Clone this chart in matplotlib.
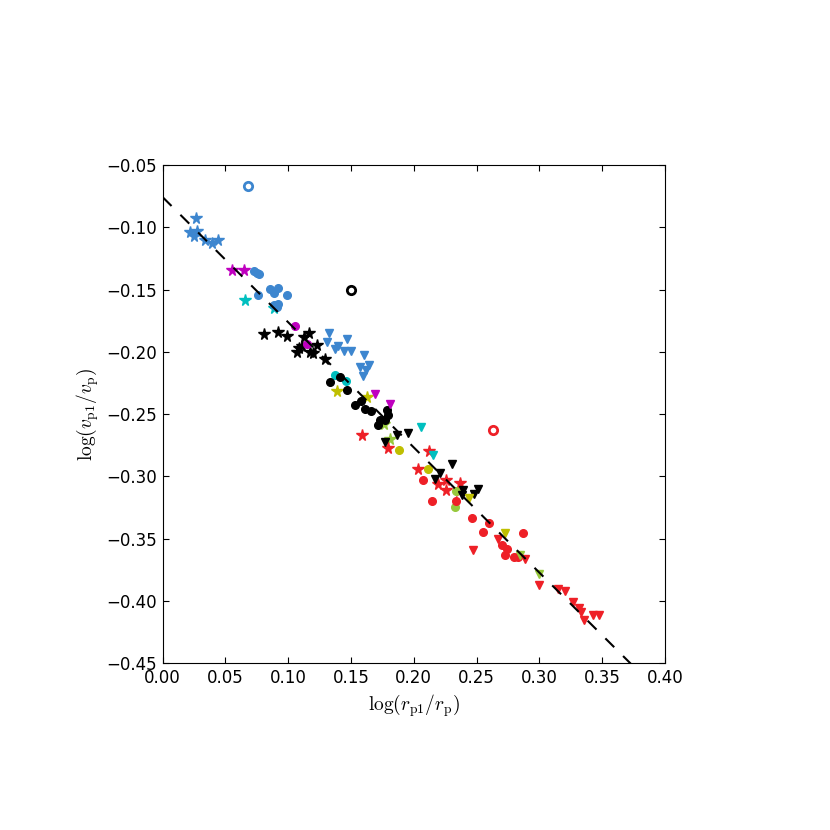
import numpy as np
import matplotlib
matplotlib.use('Agg')
import matplotlib.pyplot as plt

# colours used in the figure
BLUE = '#3d86cf'
RED = '#ee2027'
YGREEN = '#97c93c'

# stars
blue_star_x = [0.0263, 0.0215, 0.0247, 0.0273, 0.0337, 0.0396, 0.0444]
blue_star_y = [-0.0928, -0.1036, -0.1068, -0.1030, -0.1100, -0.1127, -0.1105]
mag_star_x = [0.0555, 0.0648]
mag_star_y = [-0.1338, -0.1343]
cyan_star_x = [0.0656, 0.0884]
cyan_star_y = [-0.1584, -0.1649]
black_star_x = [0.0807, 0.0919, 0.0988, 0.1126, 0.1163, 0.1084, 0.1073, 0.1108,
                0.1174, 0.1201, 0.1227, 0.1296]
black_star_y = [-0.1857, -0.1841, -0.1873, -0.1884, -0.1852, -0.1970, -0.2002, -0.1954,
                -0.2002, -0.2008, -0.1944, -0.2056]
olive_star_x = [0.1386, 0.1625]
olive_star_y = [-0.2313, -0.2361]
yg_star_x = [0.1759, 0.1811]
yg_star_y = [-0.2575, -0.2698]
red_star_x = [0.1586, 0.1795, 0.2125, 0.2037, 0.2191, 0.2260, 0.2260, 0.2367, 0.2361]
red_star_y = [-0.2671, -0.2773, -0.2795, -0.2939, -0.3062, -0.3025, -0.3110, -0.3052, -0.3116]

# filled circles
blue_circ_x = [0.0731, 0.0751, 0.0767, 0.0763, 0.0853, 0.0884, 0.0916, 0.0990, 0.0890,
               0.0916, 0.0911]
blue_circ_y = [-0.1354, -0.1370, -0.1376, -0.1542, -0.1498, -0.1526, -0.1488, -0.1542,
               -0.1622, -0.1616, -0.1638]
mag_circ_x = [0.1052, 0.1153]
mag_circ_y = [-0.1788, -0.1938]
cyan_circ_x = [0.1371, 0.1461]
cyan_circ_y = [-0.2189, -0.2237]
black_circ_x = [0.1333, 0.1413, 0.1466, 0.1535, 0.1578, 0.1610, 0.1663, 0.1785, 0.1791,
                0.1732, 0.1767, 0.1715]
black_circ_y = [-0.2243, -0.2201, -0.2302, -0.2425, -0.2398, -0.2462, -0.2473, -0.2468,
                -0.2510, -0.2547, -0.2547, -0.2590]
olive_circ_x = [0.1886, 0.2112]
olive_circ_y = [-0.2789, -0.2939]
yg_circ_x = [0.2340, 0.2329]
yg_circ_y = [-0.3116, -0.3249]
red_circ_x = [0.2074, 0.2149, 0.2335, 0.2462, 0.2600, 0.2552, 0.2871, 0.2701, 0.2744,
              0.2728, 0.2802, 0.2834]
red_circ_y = [-0.3025, -0.3201, -0.3201, -0.3330, -0.3378, -0.3448, -0.3453, -0.3550,
              -0.3582, -0.3630, -0.3651, -0.3651]

# down triangles
blue_tri_x = [0.1328, 0.1466, 0.1312, 0.1397, 0.1371, 0.1445, 0.1498, 0.1604, 0.1572,
              0.1641, 0.1620, 0.1594]
blue_tri_y = [-0.1846, -0.1894, -0.1921, -0.1953, -0.1980, -0.1990, -0.1996, -0.2023,
              -0.2119, -0.2108, -0.2146, -0.2194]
mag_tri_x = [0.1689, 0.1811]
mag_tri_y = [-0.2339, -0.2420]
cyan_tri_x = [0.2061, 0.2157]
cyan_tri_y = [-0.2602, -0.2827]
black_tri_x = [0.1769, 0.1870, 0.1955, 0.2303, 0.2207, 0.2170, 0.2393, 0.2388, 0.2510,
               0.2478]
black_tri_y = [-0.2725, -0.2666, -0.2655, -0.2897, -0.2975, -0.3020, -0.3110, -0.3153,
               -0.3100, -0.3143]
olive_tri_x = [0.2441, 0.2723]
olive_tri_y = [-0.3175, -0.3453]
yg_tri_x = [0.2850, 0.2994]
yg_tri_y = [-0.3635, -0.3785]
red_tri_x = [0.2473, 0.2675, 0.2887, 0.2998, 0.3147, 0.3206, 0.3265, 0.3317, 0.3333,
             0.3360, 0.3424, 0.3472]
red_tri_y = [-0.3587, -0.3506, -0.3662, -0.3871, -0.3908, -0.3924, -0.4010, -0.4058,
             -0.4090, -0.4155, -0.4117, -0.4112]

# open circles
open_x = [0.068, 0.150, 0.263]
open_y = [-0.067, -0.150, -0.263]
open_c = [BLUE, 'k', RED]

# dashed fit
fit_slope = -1.005
fit_intercept = -0.0757


def fmt(v, pos):
	return ('%.2f' % v).replace('-', '\u2212')


def main():
	plt.rcParams['mathtext.fontset'] = 'cm'
	plt.rcParams['font.size'] = 12
	plt.rcParams['xtick.direction'] = 'in'
	plt.rcParams['ytick.direction'] = 'in'
	plt.rcParams['xtick.top'] = True
	plt.rcParams['ytick.right'] = True
	plt.rcParams['xtick.major.size'] = 4
	plt.rcParams['ytick.major.size'] = 4
	plt.rcParams['xtick.major.pad'] = 4
	plt.rcParams['ytick.major.pad'] = 4

	fig = plt.figure(figsize=(8.3, 8.3), dpi=100)
	ax = fig.add_axes([0.196, 0.201, 0.605, 0.600])

	stars = [(blue_star_x, blue_star_y, BLUE), (mag_star_x, mag_star_y, 'm'),
	         (cyan_star_x, cyan_star_y, 'c'), (black_star_x, black_star_y, 'k'),
	         (olive_star_x, olive_star_y, 'y'), (yg_star_x, yg_star_y, YGREEN),
	         (red_star_x, red_star_y, RED)]
	circs = [(blue_circ_x, blue_circ_y, BLUE), (mag_circ_x, mag_circ_y, 'm'),
	         (cyan_circ_x, cyan_circ_y, 'c'), (black_circ_x, black_circ_y, 'k'),
	         (olive_circ_x, olive_circ_y, 'y'), (yg_circ_x, yg_circ_y, YGREEN),
	         (red_circ_x, red_circ_y, RED)]
	tris = [(blue_tri_x, blue_tri_y, BLUE), (mag_tri_x, mag_tri_y, 'm'),
	        (cyan_tri_x, cyan_tri_y, 'c'), (black_tri_x, black_tri_y, 'k'),
	        (olive_tri_x, olive_tri_y, 'y'), (yg_tri_x, yg_tri_y, YGREEN),
	        (red_tri_x, red_tri_y, RED)]

	for x, y, c in stars:
		ax.plot(x, y, '*', color=c, mec=c, ms=8.5)
	for x, y, c in circs:
		ax.plot(x, y, 'o', color=c, mec=c, ms=5.5)
	for x, y, c in tris:
		ax.plot(x, y, 'v', color=c, mec=c, ms=6)
	for x, y, c in zip(open_x, open_y, open_c):
		ax.plot(x, y, 'o', mfc='none', mec=c, mew=2, ms=6)

	xx = np.array([0.0, 0.40])
	ax.plot(xx, fit_intercept + fit_slope * xx, 'k--', lw=1.5, dashes=(6, 6), zorder=5)

	ax.set_xlim(0.0, 0.40)
	ax.set_ylim(-0.45, -0.05)
	ax.set_xticks(np.arange(0.0, 0.401, 0.05))
	ax.set_yticks(np.arange(-0.45, -0.049, 0.05))
	ax.xaxis.set_major_formatter(matplotlib.ticker.FuncFormatter(fmt))
	ax.yaxis.set_major_formatter(matplotlib.ticker.FuncFormatter(fmt))
	ax.set_xlabel(r'$\log(r_{\rm p1}/r_{\rm p})$', fontsize=14)
	ax.set_ylabel(r'$\log(v_{\rm p1}/v_{\rm p})$', fontsize=14)

	fig.savefig('out.png', dpi=100)
	return 0


if __name__ == '__main__':
	main()
